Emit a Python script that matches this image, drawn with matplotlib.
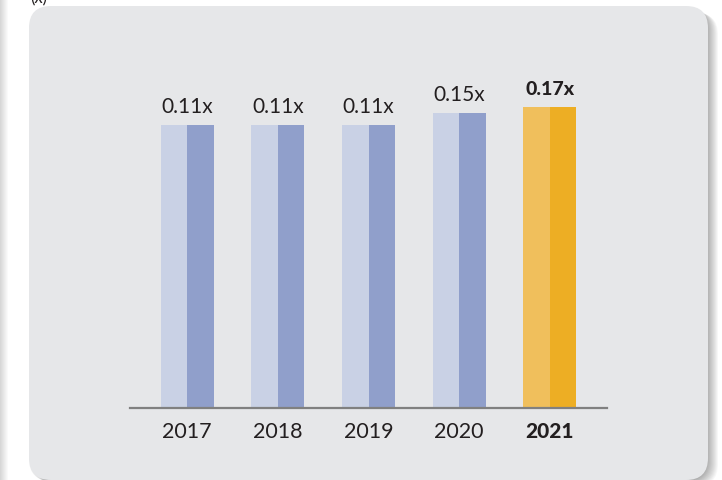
import matplotlib.pyplot as plt
from matplotlib.patches import FancyBboxPatch, Rectangle

# Leverage ratio by year
years = ["2017", "2018", "2019", "2020", "2021"]
ratios = [0.11, 0.11, 0.11, 0.15, 0.17]
labels = ["0.11x", "0.11x", "0.11x", "0.15x", "0.17x"]
highlight = "2021"

light_blue = "#C9D1E5"
dark_blue = "#909FCB"
light_gold = "#F0BF5C"
dark_gold = "#EDAE24"
panel_col = "#E6E7E9"
text_col = "#231F20"
font = "Lato"

W, H = 722, 481
fig = plt.figure(figsize=(W / 100, H / 100), dpi=100)
fig.patch.set_facecolor("white")

# background layer in pixel units for the card and its shadows
bg = fig.add_axes([0, 0, 1, 1])
bg.set_xlim(0, W)
bg.set_ylim(H, 0)
bg.axis("off")

for i in range(11):
    bg.add_patch(FancyBboxPatch((29 + i, 9 + i * 0.5), 679, 473, boxstyle="round,pad=0,rounding_size=22",
                                fc="#000000", ec="none", alpha=0.03))
bg.add_patch(FancyBboxPatch((29, 7), 679, 474, boxstyle="round,pad=0,rounding_size=22",
                            fc=panel_col, ec="none"))
# edge of the neighbouring card on the left
for i in range(8):
    bg.add_patch(Rectangle((-30, -10), 31 + i, H + 20, fc="#000000", ec="none", alpha=0.02))

fig.text(30 / W, 1 - 3 / H, "(x)", fontsize=12, color=text_col, family=font, va="baseline")

# chart area: bottom at the axis line
ax = fig.add_axes([130 / W, 1 - 409 / H, 477 / W, 349 / H])
ax.patch.set_alpha(0)
floor = -0.833
ax.set_xlim(-0.63, 4.63)
ax.set_ylim(floor, 0.33)

hw = 0.292
for i, (yr, v, lab) in enumerate(zip(years, ratios, labels)):
    hi = yr == highlight
    c1, c2 = (light_gold, dark_gold) if hi else (light_blue, dark_blue)
    ax.bar(i - hw / 2, v - floor, bottom=floor, width=hw, color=c1, linewidth=0)
    ax.bar(i + hw / 2, v - floor, bottom=floor, width=hw, color=c2, linewidth=0)
    ax.annotate(lab, (i, v), xytext=(0, 9.5), textcoords="offset points", ha="center", va="baseline",
                fontsize=15 if not hi else 14, fontweight="black" if hi else "normal",
                color=text_col, family=font)

for s in ["top", "right", "left"]:
    ax.spines[s].set_visible(False)
ax.spines["bottom"].set_color("#808080")
ax.spines["bottom"].set_linewidth(1.6)
ax.set_yticks([])
ax.set_xticks(range(len(years)))
ax.set_xticklabels(years, fontsize=15.5, color=text_col, family=font)
ax.tick_params(axis="x", length=0, pad=9.5)
for t in ax.get_xticklabels():
    if t.get_text() == highlight:
        t.set_fontweight("black")
        t.set_fontsize(15)

fig.savefig("out.png", dpi=100)
